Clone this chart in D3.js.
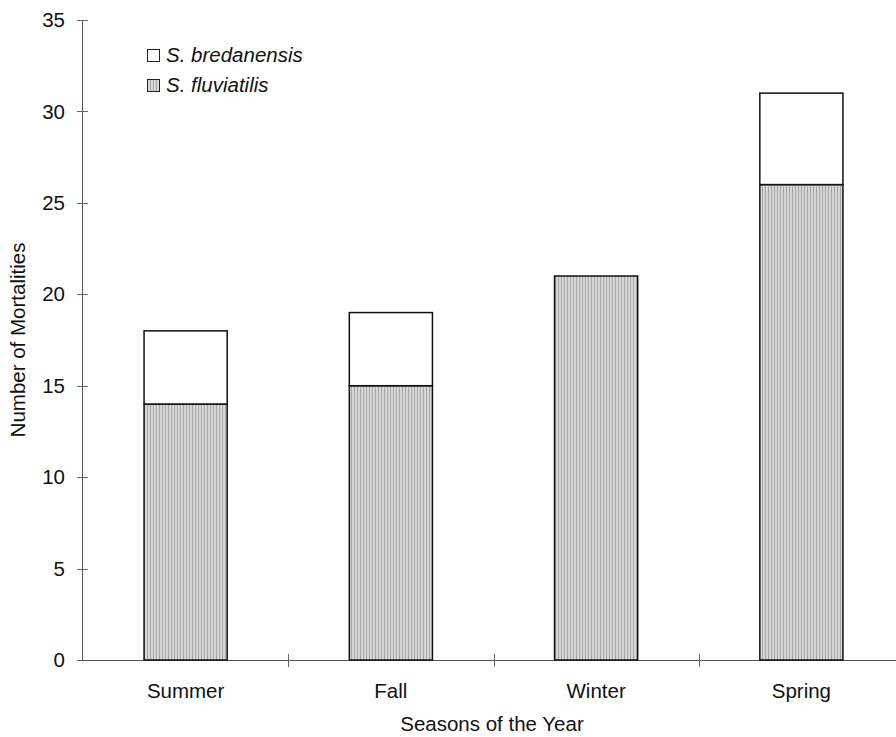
<!DOCTYPE html>
<html><head><meta charset="utf-8">
<script src="https://cdn.jsdelivr.net/npm/d3@7"></script>
<style>body{margin:0;background:#fff}svg{display:block}text{font-family:"Liberation Sans",Arial,sans-serif;fill:#111}</style>
</head><body>
<script>
const seasons = ["Summer", "Fall", "Winter", "Spring"];
const fluviatilis = [14, 15, 21, 26];
const bredanensis = [4, 4, 0, 5];
const yTicks = [0, 5, 10, 15, 20, 25, 30, 35];
const seriesNames = ["S. bredanensis", "S. fluviatilis"];

const W = 896, H = 737, FS = 20.5;
const svg = d3.select("body").append("svg").attr("width", W).attr("height", H);
const defs = svg.append("defs");
const pat = defs.append("pattern").attr("id", "stripe").attr("patternUnits", "userSpaceOnUse")
  .attr("width", 3).attr("height", 4);
pat.append("rect").attr("width", 3).attr("height", 4).attr("fill", "#d6d6d6");
pat.append("rect").attr("x", 0).attr("width", 1).attr("height", 4).attr("fill", "#a9a9a9");

const x = d3.scaleBand().domain(seasons).range([83, 904]).paddingInner(0.595).paddingOuter(0.2975);
const y = d3.scaleLinear().domain([0, 35]).range([660, 20]);

// y axis
const ya = svg.append("g");
ya.append("line").attr("x1", 82.5).attr("x2", 82.5).attr("y1", y(35)).attr("y2", y(0)).attr("stroke", "#555");
yTicks.forEach(t => {
  ya.append("line").attr("x1", 77).attr("x2", 88).attr("y1", Math.round(y(t)) + 0.5).attr("y2", Math.round(y(t)) + 0.5).attr("stroke", "#666");
  ya.append("text").attr("x", 65).attr("y", y(t)).attr("dy", "0.35em").attr("text-anchor", "end")
    .attr("font-size", FS).text(t);
});

// x axis
const xa = svg.append("g");
xa.append("line").attr("x1", 77).attr("x2", W).attr("y1", 660.5).attr("y2", 660.5).attr("stroke", "#555");
const bw = x.step();
seasons.forEach((s, i) => {
  const tx = Math.round(83 + bw * (i + 1)) + 0.5;
  xa.append("line").attr("x1", tx).attr("x2", tx).attr("y1", 654).attr("y2", 667).attr("stroke", "#666");
  xa.append("text").attr("x", x(s) + x.bandwidth() / 2).attr("y", 698).attr("text-anchor", "middle")
    .attr("font-size", FS).text(s);
});

// bars
const g = svg.append("g");
seasons.forEach((s, i) => {
  const x0 = x(s), w = x.bandwidth();
  g.append("rect").attr("x", x0).attr("width", w)
    .attr("y", y(fluviatilis[i])).attr("height", y(0) - y(fluviatilis[i]))
    .attr("fill", "url(#stripe)").attr("stroke", "#111").attr("stroke-width", 1.5);
  if (bredanensis[i] > 0) {
    const top = fluviatilis[i] + bredanensis[i];
    g.append("rect").attr("x", x0).attr("width", w)
      .attr("y", y(top)).attr("height", y(fluviatilis[i]) - y(top))
      .attr("fill", "#fff").attr("stroke", "#111").attr("stroke-width", 1.5);
  }
});

// legend
const lg = svg.append("g");
seriesNames.forEach((n, i) => {
  const yy = 49 + i * 30;
  lg.append("rect").attr("x", 147.5).attr("y", yy + 0.5).attr("width", 12).attr("height", 12)
    .attr("fill", i === 0 ? "#fff" : "url(#stripe)").attr("stroke", "#222");
  lg.append("text").attr("x", 166).attr("y", yy + 12.5).attr("font-size", FS).attr("font-style", "italic").text(n);
});

// titles
svg.append("text").attr("x", 492).attr("y", 731).attr("text-anchor", "middle").attr("font-size", FS).text("Seasons of the Year");
svg.append("text").attr("transform", "translate(25,340) rotate(-90)").attr("text-anchor", "middle").attr("font-size", FS).text("Number of Mortalities");
</script>
</body></html>
